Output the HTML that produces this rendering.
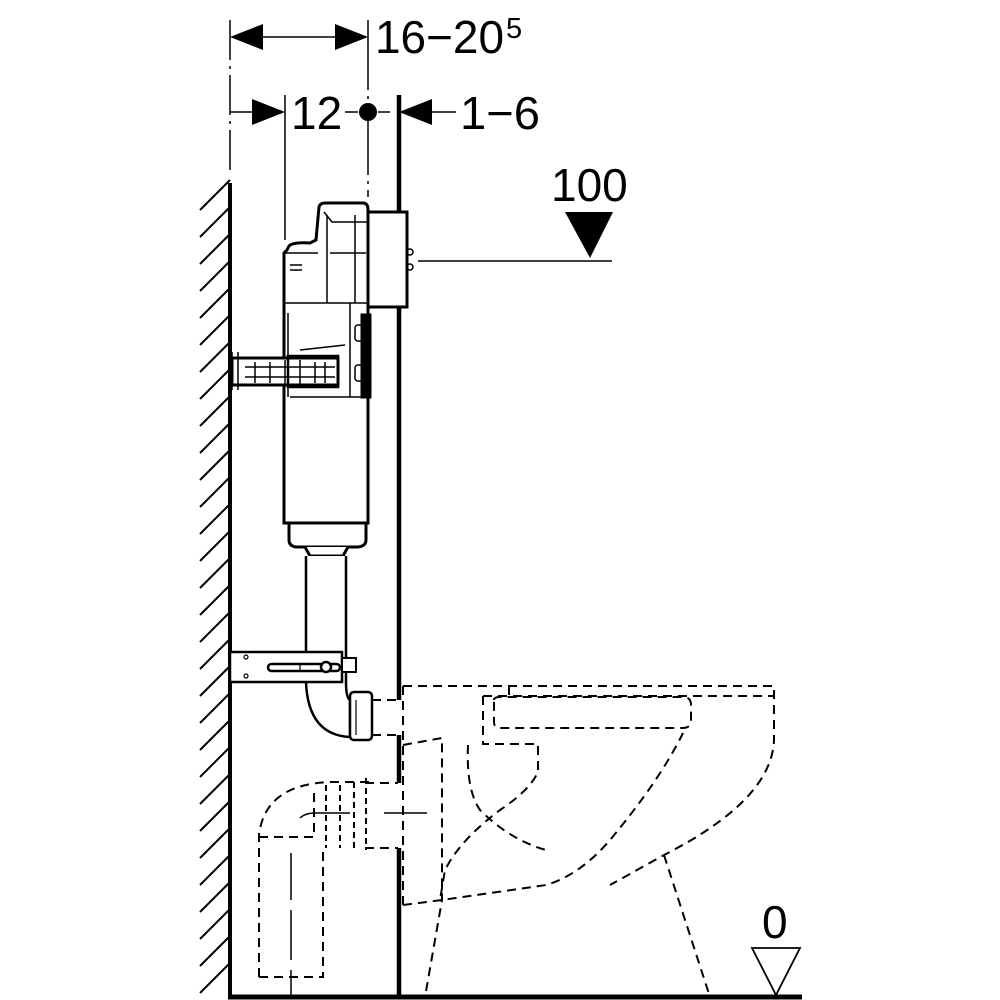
<!DOCTYPE html>
<html><head><meta charset="utf-8"><style>html,body{margin:0;padding:0;background:#fff}svg{display:block}text{font-family:"Liberation Sans",sans-serif;fill:#000}</style></head>
<body>
<svg width="1000" height="1000" viewBox="0 0 1000 1000" xmlns="http://www.w3.org/2000/svg">
<g stroke="#000" fill="none">
<g stroke-width="2">
<path d="M200,210L230,180M200,237L230,207M200,264L230,234M200,291L230,261M200,318L230,288M200,345L230,315M200,372L230,342M200,399L230,369M200,426L230,396M200,453L230,423M200,480L230,450M200,507L230,477M200,534L230,504M200,561L230,531M200,588L230,558M200,615L230,585M200,642L230,612M200,669L230,639M200,696L230,666M200,723L230,693M200,750L230,720M200,777L230,747M200,804L230,774M200,831L230,801M200,858L230,828M200,885L230,855M200,912L230,882M200,939L230,909M200,966L230,936M200,993L230,963"/>
</g>
<line x1="230" y1="183" x2="230" y2="998" stroke-width="4"/>
<line x1="228" y1="997" x2="802" y2="997" stroke-width="5"/>
<path d="M399,95V700M399,735V783M399,848V998" stroke-width="4.5"/>
<path d="M230,20V170" stroke-width="1.5" stroke-dasharray="40,6,3,6"/>
<path d="M368,20V197" stroke-width="1.5" stroke-dasharray="70,6,3,6"/>
<line x1="285" y1="95" x2="285" y2="240" stroke-width="1.5"/>
<line x1="240" y1="37" x2="360" y2="37" stroke-width="1.5"/>
<path d="M230,112H252M345,112H358M378,112H390M430,112H456" stroke-width="1.5"/>
<line x1="418" y1="261" x2="612" y2="261" stroke-width="1.5"/>
<path d="M752,948H800L776,995Z" stroke-width="1.8"/>
</g>
<g fill="#000">
<path d="M230,37L263,24V50Z"/><path d="M368,37L335,24V50Z"/>
<path d="M285,112L252,99V125Z"/><path d="M399,112L432,99V125Z"/>
<circle cx="368" cy="112" r="9"/>
<path d="M565,212H613L590,258Z"/>
</g>
<text x="375" y="53" font-size="46" textLength="129" lengthAdjust="spacingAndGlyphs">16−20</text><text x="506" y="38" font-size="29">5</text>
<text x="291" y="129" font-size="46">12</text>
<text x="460" y="129" font-size="46" textLength="80" lengthAdjust="spacingAndGlyphs">1−6</text>
<text x="551" y="201" font-size="46">100</text>
<text x="762" y="938" font-size="46">0</text>
<g stroke="#000" fill="#fff" stroke-width="3">
<rect x="367" y="212" width="40" height="95"/>
<path d="M287,250L289,246Q293,242 310,243L316,240L319,207Q320,203 325,203H363Q368,203 368,210V523H284V253Z"/>
<path d="M289,523H366V540Q366,546 358,547H296Q289,546 289,540Z"/>
<path d="M305,547L310,556H343L348,547"/>
<rect x="232" y="358" width="106" height="27"/>
<rect x="362" y="315" width="8" height="82" fill="#000"/>
</g>
<g stroke="#000" fill="none" stroke-width="1.5">
<path d="M285,303H368M285,253H318M330,253H366M290,265H302M290,270H302M327,215V303M355,215V303M324,212L332,222H367M290,397H364"/>
<path d="M288,313V397M350,303V397M300,350L345,345"/>
<path d="M245,367H335M245,377H335M255,362V383M270,362V383M285,360V385M300,360V385M315,362V383M325,362V383"/>
<rect x="288" y="356" width="50" height="31" stroke-width="2.5"/>
<path d="M232,352V390M238,352V390"/>
<circle cx="410" cy="252" r="3"/><circle cx="410" cy="267" r="3"/>
<rect x="355" y="325" width="8" height="16" rx="3"/><rect x="355" y="365" width="8" height="16" rx="3"/>
</g>
<g stroke="#000" fill="#fff" stroke-width="2.5">
<path d="M306,556V682Q308,735 350,737V700Q346,698 346,682V556"/>
<rect x="350" y="692" width="22" height="48" rx="4"/>
<rect x="230" y="652" width="112" height="30"/>
<rect x="268" y="664" width="72" height="7" rx="3.5"/>
<circle cx="326" cy="667" r="5"/>
<rect x="342" y="658" width="14" height="14" stroke-width="2"/>
</g>
<g stroke="#000" fill="none" stroke-width="1.2"><circle cx="246" cy="657" r="2"/><circle cx="246" cy="676" r="2"/><path d="M356,700V735M300,665V671"/></g>
<g stroke="#000" fill="none" stroke-width="2" stroke-dasharray="9,6">
<path d="M372,700H398M372,735H398M365,783H398M365,848H398"/>
<path d="M403,686H774V740Q772,800 664,855L610,885"/>
<path d="M403,686V905"/>
<path d="M483,696H774M509,686V696"/>
<path d="M483,696V744H538V772Q530,790 500,810Q460,840 445,870L440,900"/>
<path d="M494,700Q494,697 500,697H683Q691,697 691,705V720Q691,728 683,728H500Q494,728 494,722Z"/>
<path d="M403,745L442,738V900L425,997"/>
<path d="M403,905L442,900L546,885Q580,875 610,840Q660,780 683,733"/>
<path d="M468,745Q466,790 480,810Q510,840 546,850"/>
<path d="M664,855L710,997"/>
<path d="M259,977V835Q265,784 331,782H372M259,977H323V850M259,837H314V790"/>
<path d="M326,785V848M340,785V848M354,782V848M366,778V850" stroke-dasharray="6,4"/>
</g>
<g stroke="#000" fill="none" stroke-width="1.5">
<path d="M300,818Q305,813 315,813H350M384,813H427"/>
<path d="M291,853V900M291,910V960M291,970V998"/>
</g>
</svg>
</body></html>
